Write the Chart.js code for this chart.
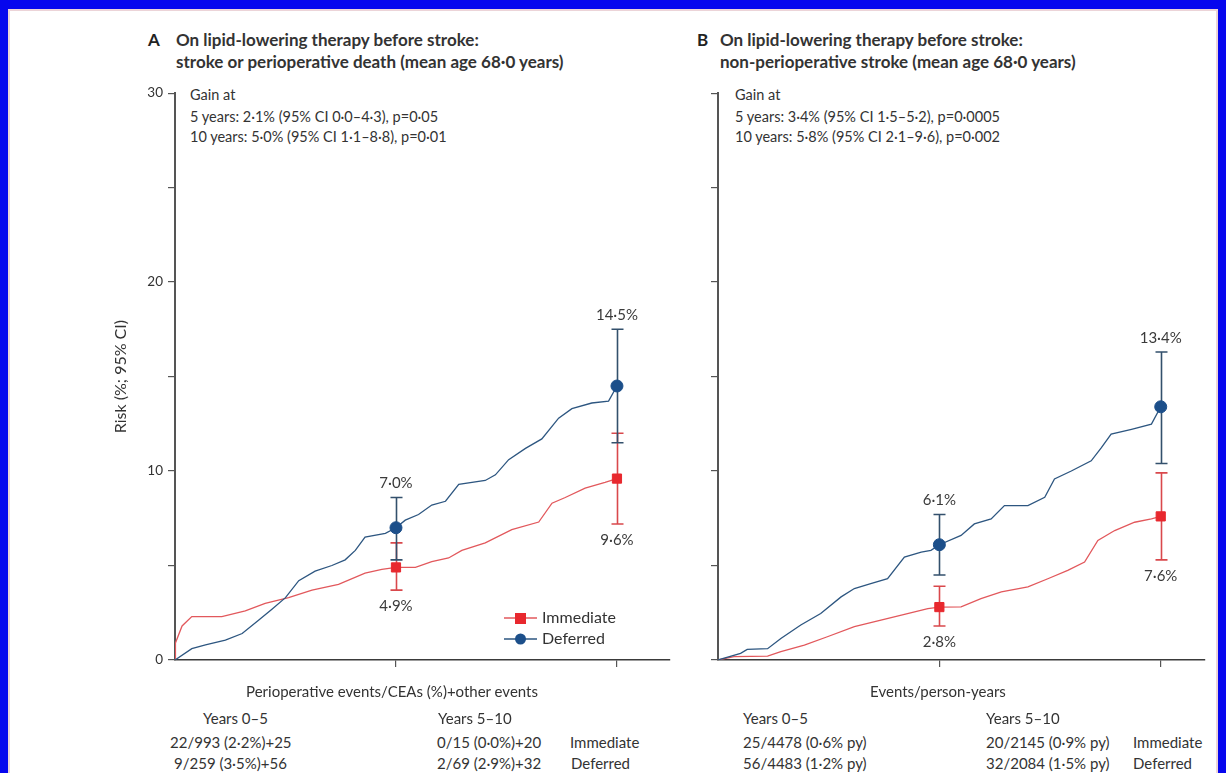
<!DOCTYPE html>
<html>
<head>
<meta charset="utf-8">
<script src="https://cdn.jsdelivr.net/npm/chart.js@4.4.1/dist/chart.umd.min.js"></script>
<style>
  html, body { margin: 0; padding: 0; }
  body { width: 1226px; height: 773px; background: #0606ee; position: relative; overflow: hidden; font-family: Lato, "Open Sans", sans-serif; }
  #sheet { position: absolute; left: 8px; top: 9px; width: 1210px; height: 770px; background: #fff; border: 2px solid #ecd4d8; box-sizing: border-box; }
  .t { position: absolute; white-space: nowrap; font-size: 15px; line-height: 18px; color: #333; }
  .big { font-size: 17px; font-weight: 700; color: #222; line-height: 20px; }
  .ttl { font-size: 17px; font-weight: 700; color: #333; line-height: 20px; }
  .gain { font-size: 14.5px; }
  .ctr { text-align: center; width: 400px; }
  .box { position: absolute; top: 80px; width: 580px; height: 620px; }
</style>
</head>
<body>
<div id="sheet"></div>

<!-- panel A headings -->
<div class="t big" style="left:148px; top:30px;">A</div>
<div class="t ttl" style="left:176px; top:30px;">On lipid-lowering therapy before stroke:</div>
<div class="t ttl" style="left:176px; top:52px;">stroke or perioperative death (mean age 68·0 years)</div>
<div class="t gain" style="left:190px; top:86px;">Gain at</div>
<div class="t gain" style="left:190px; top:108px;">5 years: 2·1% (95% CI 0·0–4·3), p=0·05</div>
<div class="t gain" style="left:190px; top:128px;">10 years: 5·0% (95% CI 1·1–8·8), p=0·01</div>

<!-- panel B headings -->
<div class="t big" style="left:697px; top:30px;">B</div>
<div class="t ttl" style="left:720px; top:30px;">On lipid-lowering therapy before stroke:</div>
<div class="t ttl" style="left:720px; top:52px;">non-perioperative stroke (mean age 68·0 years)</div>
<div class="t gain" style="left:735px; top:86px;">Gain at</div>
<div class="t gain" style="left:735px; top:108px;">5 years: 3·4% (95% CI 1·5–5·2), p=0·0005</div>
<div class="t gain" style="left:735px; top:128px;">10 years: 5·8% (95% CI 2·1–9·6), p=0·002</div>

<div class="box" style="left:100px;"><canvas id="chartA" width="580" height="620"></canvas></div>
<div class="box" style="left:643px;"><canvas id="chartB" width="580" height="620"></canvas></div>

<!-- event tables under the axes -->
<div class="t ctr" style="left:192px; top:682px;">Perioperative events/CEAs (%)+other events</div>
<div class="t" style="left:203px; top:709px;">Years 0–5</div>
<div class="t" style="left:170px; top:733px;">22/993 (2·2%)+25</div>
<div class="t" style="left:174px; top:754px;">9/259 (3·5%)+56</div>
<div class="t" style="left:438px; top:709px;">Years 5–10</div>
<div class="t" style="left:437px; top:733px;">0/15 (0·0%)+20</div>
<div class="t" style="left:437px; top:754px;">2/69 (2·9%)+32</div>
<div class="t" style="left:570px; top:733px;">Immediate</div>
<div class="t" style="left:571px; top:754px;">Deferred</div>

<div class="t ctr" style="left:738px; top:682px;">Events/person-years</div>
<div class="t" style="left:743px; top:709px;">Years 0–5</div>
<div class="t" style="left:743px; top:733px;">25/4478 (0·6% py)</div>
<div class="t" style="left:743px; top:754px;">56/4483 (1·2% py)</div>
<div class="t" style="left:986px; top:709px;">Years 5–10</div>
<div class="t" style="left:986px; top:733px;">20/2145 (0·9% py)</div>
<div class="t" style="left:986px; top:754px;">32/2084 (1·5% py)</div>
<div class="t" style="left:1133px; top:733px;">Immediate</div>
<div class="t" style="left:1133px; top:754px;">Deferred</div>

<script>
// cumulative risk curves (years, %)
const aImmYears = [0, 0.01, 0.16, 0.38, 1.06, 1.59, 2.04, 2.57, 3.1, 3.7, 4.3, 4.68, 5.0, 5.44, 5.81, 6.19, 6.49, 7.02, 7.62, 8.23, 8.53, 8.83, 9.28, 9.73, 10];
const aImmRisk  = [0, 0.9, 1.8, 2.3, 2.3, 2.6, 3.0, 3.3, 3.7, 4.0, 4.6, 4.8, 4.9, 4.9, 5.2, 5.4, 5.8, 6.2, 6.9, 7.3, 8.3, 8.6, 9.1, 9.4, 9.6];
const aDefYears = [0, 0.38, 0.69, 1.14, 1.52, 1.89, 2.2, 2.5, 2.8, 3.17, 3.55, 3.85, 4.08, 4.3, 4.76, 5.0, 5.21, 5.51, 5.81, 6.12, 6.42, 7.02, 7.25, 7.55, 7.93, 8.3, 8.68, 8.98, 9.43, 9.81, 10];
const aDefRisk  = [0, 0.6, 0.8, 1.05, 1.4, 2.1, 2.7, 3.3, 4.2, 4.7, 5.0, 5.3, 5.8, 6.5, 6.7, 7.0, 7.4, 7.7, 8.2, 8.4, 9.3, 9.5, 9.8, 10.6, 11.2, 11.7, 12.8, 13.3, 13.6, 13.7, 14.5];

const bImmYears = [0, 0.36, 1.12, 1.42, 1.95, 2.47, 3.08, 3.68, 4.28, 4.74, 5.0, 5.49, 5.94, 6.4, 7.0, 7.45, 7.9, 8.28, 8.58, 8.96, 9.41, 9.79, 10];
const bImmRisk  = [0, 0.18, 0.2, 0.44, 0.79, 1.23, 1.76, 2.11, 2.46, 2.72, 2.8, 2.81, 3.25, 3.6, 3.87, 4.3, 4.74, 5.18, 6.33, 6.85, 7.29, 7.47, 7.6];
const bDefYears = [0, 0.51, 0.66, 1.12, 1.42, 1.87, 2.32, 2.78, 3.08, 3.45, 3.83, 4.21, 4.59, 4.81, 5.0, 5.49, 5.79, 6.17, 6.47, 7.0, 7.38, 7.6, 7.98, 8.43, 8.66, 8.88, 9.34, 9.79, 10];
const bDefRisk  = [0, 0.35, 0.56, 0.6, 1.14, 1.85, 2.46, 3.34, 3.78, 4.04, 4.3, 5.45, 5.71, 5.8, 6.1, 6.59, 7.2, 7.47, 8.17, 8.17, 8.61, 9.58, 10.0, 10.54, 11.24, 11.95, 12.21, 12.48, 13.4];

// estimates with 95% CI at 5 and 10 years
const markYears = [5, 10];
const aImmAt = [4.9, 9.6],  aImmLo = [3.7, 7.2],  aImmHi = [6.2, 12.0];
const aDefAt = [7.0, 14.5], aDefLo = [5.3, 11.5], aDefHi = [8.6, 17.5];
const bImmAt = [2.8, 7.6],  bImmLo = [1.8, 5.3],  bImmHi = [3.9, 9.9];
const bDefAt = [6.1, 13.4], bDefLo = [4.5, 10.4], bDefHi = [7.7, 16.3];

const yTicks = [0, 5, 10, 15, 20, 25, 30];
const legendNames = ['Immediate', 'Deferred'];

const IMM_LINE = '#e2585c', IMM_MARK = '#e8282e', IMM_BAR = '#d9484c';
const DEF_LINE = '#2d5680', DEF_MARK = '#1c4f8a', DEF_BAR = '#33506c';
const FONT = 'Lato, "Open Sans", sans-serif';

const toXY = (xs, ys) => xs.map((x, i) => ({ x: x, y: ys[i] }));
const pct = v => v.toFixed(1).replace('.', '·') + '%';

function drawBars(chart, at, lo, hi, color) {
    const { ctx, scales: { x, y } } = chart;
    ctx.save();
    ctx.strokeStyle = color;
    ctx.lineWidth = 1.6;
    markYears.forEach((yr, i) => {
        const px = Math.round(x.getPixelForValue(yr)) + 0.5;
        const top = y.getPixelForValue(hi[i]);
        const bot = y.getPixelForValue(lo[i]);
        ctx.beginPath();
        ctx.moveTo(px, top); ctx.lineTo(px, bot);
        ctx.moveTo(px - 6, top); ctx.lineTo(px + 6, top);
        ctx.moveTo(px - 6, bot); ctx.lineTo(px + 6, bot);
        ctx.stroke();
    });
    ctx.restore();
}

// error bars go under their own markers, labels and legend on top
const riskMarks = {
    id: 'riskMarks',
    beforeDatasetDraw(chart, args, opts) {
        if (args.index === 2) drawBars(chart, opts.imm.at, opts.imm.lo, opts.imm.hi, IMM_BAR);
        if (args.index === 3) drawBars(chart, opts.def.at, opts.def.lo, opts.def.hi, DEF_BAR);
    },
    afterDatasetsDraw(chart, args, opts) {
        const { ctx, scales: { x, y } } = chart;
        ctx.save();
        ctx.font = '15px ' + FONT;
        ctx.fillStyle = '#3a3a3a';
        ctx.textAlign = 'center';
        ctx.textBaseline = 'middle';
        markYears.forEach((yr, i) => {
            const px = x.getPixelForValue(yr);
            ctx.fillText(pct(opts.def.at[i]), px, y.getPixelForValue(opts.def.hi[i]) - 14);
            ctx.fillText(pct(opts.imm.at[i]), px, y.getPixelForValue(opts.imm.lo[i]) + 16);
        });

        if (opts.legend) {
            const lx = opts.legend.x, ly = opts.legend.y;
            [IMM_LINE, DEF_LINE].forEach((c, i) => {
                const yy = ly + i * 21;
                ctx.strokeStyle = c;
                ctx.lineWidth = 1.4;
                ctx.beginPath();
                ctx.moveTo(lx, yy); ctx.lineTo(lx + 33, yy);
                ctx.stroke();
                ctx.fillStyle = i === 0 ? IMM_MARK : DEF_MARK;
                if (i === 0) {
                    ctx.fillRect(lx + 11, yy - 5, 11, 11);
                } else {
                    ctx.beginPath();
                    ctx.arc(lx + 16.5, yy, 5.5, 0, Math.PI * 2);
                    ctx.fill();
                }
                ctx.fillStyle = '#333';
                ctx.textAlign = 'left';
                ctx.font = '16px ' + FONT;
                ctx.fillText(legendNames[i], lx + 38, yy);
            });
        }
        ctx.restore();
    }
};

const makeChart = (id, cfg) => {
    const ctx = document.querySelector(id).getContext('2d');
    return new Chart(ctx, {
        type: 'line',
        data: {
            datasets: [
                { label: legendNames[0], data: toXY(cfg.immYears, cfg.immRisk), borderColor: IMM_LINE, borderWidth: 1.3,
                  tension: 0, pointRadius: 0, fill: false, order: 4 },
                { label: legendNames[1], data: toXY(cfg.defYears, cfg.defRisk), borderColor: DEF_LINE, borderWidth: 1.3,
                  tension: 0, pointRadius: 0, fill: false, order: 3 },
                { type: 'scatter', data: toXY(markYears, cfg.imm.at), pointStyle: 'rect', pointRadius: 6.5,
                  backgroundColor: IMM_MARK, borderColor: IMM_MARK, order: 2 },
                { type: 'scatter', data: toXY(markYears, cfg.def.at), pointStyle: 'circle', pointRadius: 6,
                  backgroundColor: DEF_MARK, borderColor: DEF_MARK, order: 1 }
            ]
        },
        options: {
            responsive: false,
            devicePixelRatio: 1,
            animation: false,
            layout: { padding: { top: 11, right: cfg.padRight, left: 0, bottom: 0 } },
            plugins: {
                legend: { display: false },
                tooltip: { enabled: false },
                riskMarks: { imm: cfg.imm, def: cfg.def, legend: cfg.legend }
            },
            scales: {
                x: {
                    type: 'linear', min: 0, max: cfg.xMax,
                    afterBuildTicks: s => { s.ticks = markYears.map(v => ({ value: v })); },
                    afterFit: s => { s.height = 40; },
                    ticks: { callback: () => '' },
                    grid: { drawOnChartArea: false, drawTicks: true, tickLength: 7, color: '#555', lineWidth: 1.2 },
                    border: { display: true, color: '#3a3a3a', width: 1.6 }
                },
                y: {
                    min: 0, max: 30,
                    afterBuildTicks: s => { s.ticks = yTicks.map(v => ({ value: v })); },
                    afterFit: s => { s.width = 75; },
                    ticks: {
                        callback: v => (cfg.yLabels && v % 10 === 0) ? String(v) : '',
                        font: { family: FONT, size: 13.5 }, color: '#333', padding: 5
                    },
                    grid: { drawOnChartArea: false, drawTicks: true, tickLength: 7, color: '#555', lineWidth: 1.2 },
                    border: { display: true, color: '#555', width: 2 },
                    title: {
                        display: cfg.yLabels, text: 'Risk (%; 95% CI)', color: '#333',
                        font: { family: FONT, size: 16 }, padding: { top: 11, bottom: 0 }
                    }
                }
            }
        },
        plugins: [riskMarks]
    });
};

makeChart('#chartA', {
    immYears: aImmYears, immRisk: aImmRisk, defYears: aDefYears, defRisk: aDefRisk,
    imm: { at: aImmAt, lo: aImmLo, hi: aImmHi },
    def: { at: aDefAt, lo: aDefLo, hi: aDefHi },
    xMax: 11.2, padRight: 10, yLabels: true,
    legend: { x: 404, y: 538 }
});

makeChart('#chartB', {
    immYears: bImmYears, immRisk: bImmRisk, defYears: bDefYears, defRisk: bDefRisk,
    imm: { at: bImmAt, lo: bImmLo, hi: bImmHi },
    def: { at: bDefAt, lo: bDefLo, hi: bDefHi },
    xMax: 11, padRight: 18, yLabels: false,
    legend: null
});
</script>
</body>
</html>
